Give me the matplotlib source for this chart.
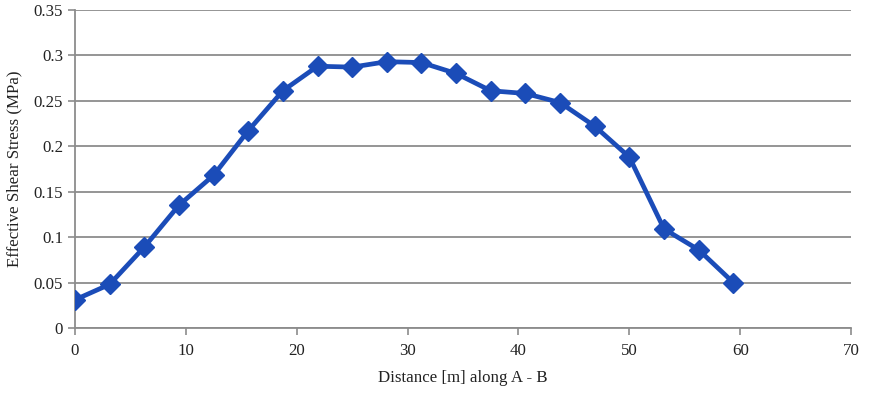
import matplotlib.pyplot as plt

# distance along A-B (m) and effective shear stress (MPa)
distance = [0, 3.125, 6.25, 9.375, 12.5, 15.625, 18.75, 21.875, 25, 28.125,
            31.25, 34.375, 37.5, 40.625, 43.75, 46.875, 50, 53.125, 56.25, 59.375]
stress = [0.031, 0.048, 0.089, 0.135, 0.168, 0.217, 0.261, 0.288, 0.287, 0.293,
          0.292, 0.280, 0.261, 0.258, 0.248, 0.222, 0.188, 0.109, 0.086, 0.050]

x_ticks = [0, 10, 20, 30, 40, 50, 60, 70]
y_ticks = [0, 0.05, 0.1, 0.15, 0.2, 0.25, 0.3, 0.35]
y_labels = ['0', '0.05', '0.1', '0.15', '0.2', '0.25', '0.3', '0.35']

plt.rcParams['font.family'] = ['Liberation Serif', 'DejaVu Serif']

fig = plt.figure(figsize=(8.82, 3.94), dpi=100)
ax = fig.add_axes([0.085, 0.1675, 0.88, 0.8075])

ax.plot(distance, stress, color='#1b4cb8', lw=3.4, marker='D', markersize=10.5,
        markerfacecolor='#1b4cb8', markeredgecolor='#1b4cb8', zorder=3)

ax.set_xlim(0, 70)
ax.set_ylim(0, 0.35)
ax.set_xticks(x_ticks)
ax.set_yticks(y_ticks)
ax.set_yticklabels(y_labels)

ax.yaxis.grid(True, color='#8c8c8c', lw=1.3)
ax.set_axisbelow(True)
for s in ['top', 'right']:
    ax.spines[s].set_visible(False)
for s in ['left', 'bottom']:
    ax.spines[s].set_color('#8c8c8c')
    ax.spines[s].set_linewidth(1.3)
ax.tick_params(colors='#8c8c8c', length=5, width=1.2, labelsize=12.2,
               labelcolor='#222222')
ax.tick_params(axis='x', pad=6)

ax.set_xlabel('Distance [m] along A - B', fontsize=12.2, color='#222222', labelpad=8)
ax.set_ylabel('Effective Shear Stress (MPa)', fontsize=12.2, color='#222222', labelpad=8)

fig.savefig('out.png', dpi=100)
